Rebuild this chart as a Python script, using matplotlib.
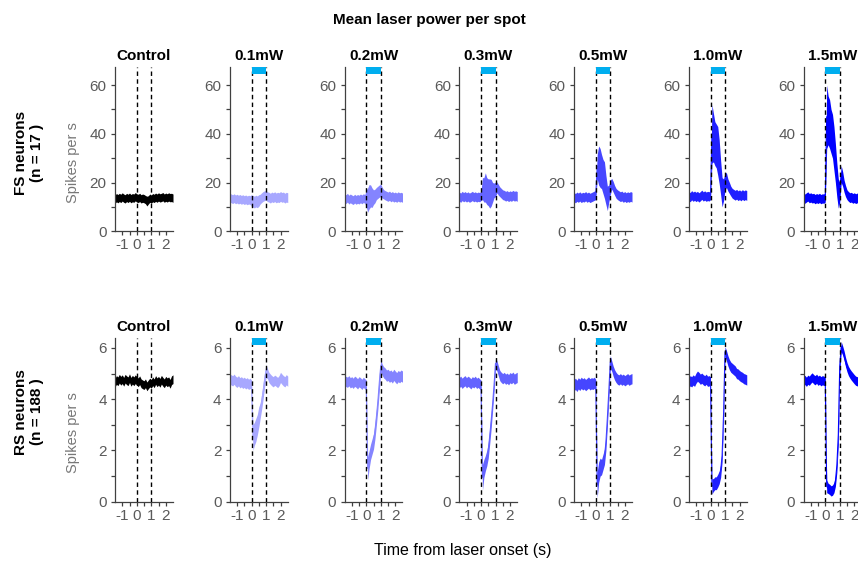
import numpy as np
import matplotlib.pyplot as plt
from matplotlib.patches import Rectangle

plt.rcParams['font.family'] = ['Liberation Sans', 'DejaVu Sans']
plt.rcParams['axes.unicode_minus'] = False

# panel titles and trace colours (control + laser powers)
powers = ['Control', '0.1mW', '0.2mW', '0.3mW', '0.5mW', '1.0mW', '1.5mW']
colors = ['#000000', '#a8a8ff', '#8484ff', '#6464ff', '#4646ff', '#2020ff', '#0000ff']

# time bins (s), 0.1 s apart, laser on from 0 to 1 s
time_s = np.round(np.arange(-1.5, 2.51, 0.1), 1)

# ---- FS neurons: mean rate and half-width of the band (spikes per s) ----
fs_control = [13.2, 13.8, 13.4, 13.9, 13.5, 14.1, 13.6, 13.3, 13.9, 13.5, 14.0, 13.4, 13.8, 13.6,
              14.2, 13.7, 13.5, 13.9, 13.3, 13.6, 13.4, 13.0, 12.4, 12.9, 13.6, 13.2, 13.8, 13.5,
              14.0, 13.6, 14.1, 13.7, 13.9, 14.2, 13.6, 14.0, 13.7, 14.1, 13.8, 13.9, 13.6]
fs_01 = [13.8, 13.5, 13.2, 13.6, 13.1, 13.4, 13.0, 13.3, 12.9, 13.2, 12.8, 13.1, 12.7, 13.0,
         12.8, 12.6, 12.3, 12.0, 12.4, 12.1, 12.6, 13.2, 13.8, 14.3, 14.6, 14.8, 14.2, 14.0,
         13.6, 14.1, 13.8, 14.2, 13.7, 14.0, 13.8, 14.3, 13.9, 14.1, 13.6, 14.0, 13.8]
fs_02 = [13.6, 13.2, 13.8, 13.0, 13.5, 13.1, 12.8, 13.4, 12.9, 13.3, 13.0, 13.5, 13.1, 13.6,
         13.3, 13.5, 12.8, 14.2, 14.5, 13.8, 14.0, 14.5, 15.5, 16.0, 16.5, 16.8, 15.8, 15.2,
         14.8, 14.5, 14.2, 14.6, 14.0, 14.4, 13.9, 14.2, 13.8, 14.3, 13.9, 14.1, 13.8]
fs_03 = [14.2, 13.8, 14.5, 14.0, 14.4, 13.9, 14.3, 13.8, 14.1, 14.5, 14.0, 14.3, 13.9, 14.2,
         14.0, 14.5, 17.5, 17.0, 18.0, 16.5, 16.0, 15.5, 15.8, 16.0, 16.8, 17.2, 18.0, 17.0,
         16.2, 15.6, 15.0, 14.8, 14.4, 14.7, 14.2, 14.6, 14.3, 14.8, 14.4, 14.6, 14.3]
fs_05 = [14.0, 13.6, 14.2, 13.8, 14.3, 13.7, 14.1, 13.9, 14.4, 13.8, 14.2, 13.7, 14.0, 14.3,
         14.6, 15.0, 26.5, 27.0, 26.0, 24.5, 22.5, 21.0, 17.0, 13.5, 15.5, 18.0, 19.5, 18.3,
         16.8, 15.6, 15.0, 14.6, 14.2, 14.5, 13.9, 14.3, 13.8, 14.2, 13.9, 14.3, 14.0]
fs_10 = [14.5, 14.0, 14.8, 14.2, 14.6, 14.1, 14.5, 13.9, 14.4, 15.0, 14.3, 14.7, 14.2, 14.5,
         14.3, 15.0, 40.0, 38.5, 36.0, 35.0, 33.0, 28.5, 22.0, 16.0, 17.0, 20.5, 21.0, 19.0,
         17.8, 16.5, 15.6, 15.2, 14.8, 15.2, 14.6, 15.0, 14.5, 15.1, 14.6, 15.0, 14.7]
fs_15 = [13.8, 13.4, 13.9, 14.3, 13.6, 13.9, 13.5, 13.7, 13.2, 13.6, 13.3, 13.7, 13.2, 13.5,
         13.4, 14.0, 47.0, 45.5, 44.0, 41.0, 39.0, 34.0, 28.0, 21.0, 15.5, 16.0, 23.5, 21.5,
         18.5, 16.5, 15.0, 14.3, 13.8, 14.0, 13.5, 13.8, 13.4, 13.7, 13.3, 13.6, 13.4]

fs_control_sd = [1.7] * 22 + [2.0] + [1.7] * 18
fs_01_sd = [1.8] * 15 + [2.4] * 6 + [2.0] * 20
fs_02_sd = [1.8] * 15 + [3.5, 5.0, 5.0, 4.5, 4.0, 3.0, 2.8, 2.5, 2.5, 2.5, 2.6, 2.2] + [1.9] * 14
fs_03_sd = [1.9] * 16 + [4.5, 5.0, 6.0, 5.5, 5.5, 6.0, 5.5, 4.0, 3.0, 3.0, 2.2, 2.2] + [2.0] * 13
fs_05_sd = [1.9] * 15 + [2.0, 5.0, 8.0, 8.0, 7.0, 7.0, 7.5, 6.0, 5.0, 3.5, 3.0, 2.2, 2.2,
                         2.0] + [2.0] * 12
fs_10_sd = [1.9] * 15 + [2.0, 12.0, 10.0, 9.0, 9.0, 10.0, 9.0, 7.0, 6.0, 4.5, 3.5, 3.0, 2.5,
                         2.3] + [2.0] * 12
fs_15_sd = [1.9] * 15 + [2.0, 13.0, 10.0, 10.0, 9.0, 9.0, 9.0, 8.0, 7.0, 6.0, 4.0, 3.5, 3.0,
                         2.5, 2.3] + [2.0] * 11

# ---- RS neurons ----
rs_control = [4.65, 4.75, 4.70, 4.80, 4.72, 4.78, 4.68, 4.80, 4.74, 4.70, 4.82, 4.68, 4.76, 4.70,
              4.78, 4.72, 4.66, 4.74, 4.62, 4.58, 4.55, 4.62, 4.50, 4.58, 4.65, 4.60, 4.70, 4.62,
              4.75, 4.66, 4.72, 4.64, 4.76, 4.68, 4.62, 4.72, 4.66, 4.70, 4.60, 4.74, 4.78]
rs_01 = [4.80, 4.75, 4.72, 4.78, 4.70, 4.66, 4.72, 4.64, 4.68, 4.62, 4.66, 4.60, 4.64, 4.58,
         4.62, 4.55, 2.50, 2.65, 2.80, 3.00, 3.30, 3.55, 3.90, 4.30, 4.75, 5.10, 5.00, 4.85,
         4.78, 4.72, 4.68, 4.74, 4.70, 4.65, 4.72, 4.85, 4.78, 4.72, 4.68, 4.76, 4.70]
rs_02 = [4.62, 4.70, 4.66, 4.72, 4.64, 4.68, 4.62, 4.70, 4.66, 4.60, 4.68, 4.64, 4.58, 4.66,
         4.60, 4.55, 1.30, 1.65, 1.95, 2.15, 2.35, 2.75, 3.30, 3.90, 4.65, 5.30, 5.15, 5.05,
         5.00, 4.92, 4.95, 4.88, 4.92, 4.85, 4.95, 4.88, 4.82, 4.90, 4.86, 4.92, 4.88]
rs_03 = [4.65, 4.70, 4.62, 4.68, 4.72, 4.64, 4.70, 4.66, 4.60, 4.68, 4.64, 4.70, 4.62, 4.66,
         4.60, 4.55, 0.95, 1.30, 1.50, 1.70, 2.00, 2.55, 3.15, 3.80, 4.55, 5.40, 5.30, 5.10,
         4.92, 4.85, 4.80, 4.85, 4.78, 4.82, 4.76, 4.84, 4.80, 4.86, 4.78, 4.82, 4.85]
rs_05 = [4.55, 4.60, 4.52, 4.62, 4.56, 4.64, 4.58, 4.62, 4.55, 4.60, 4.65, 4.58, 4.62, 4.60,
         4.64, 4.55, 0.65, 1.15, 1.35, 1.35, 1.55, 1.75, 2.30, 3.25, 4.30, 5.45, 5.30, 5.10,
         4.95, 4.85, 4.78, 4.75, 4.80, 4.74, 4.78, 4.72, 4.76, 4.80, 4.74, 4.78, 4.80]
rs_10 = [4.65, 4.72, 4.68, 4.75, 4.70, 4.82, 4.90, 4.85, 4.78, 4.82, 4.76, 4.72, 4.78, 4.70,
         4.72, 4.68, 0.60, 0.65, 0.72, 0.72, 0.82, 0.95, 1.20, 1.80, 3.40, 5.85, 5.70, 5.50,
         5.35, 5.25, 5.20, 5.15, 5.10, 5.00, 4.98, 4.92, 4.88, 4.85, 4.80, 4.78, 4.75]
rs_15 = [4.70, 4.75, 4.68, 4.76, 4.72, 4.80, 4.85, 4.78, 4.74, 4.80, 4.72, 4.76, 4.70, 4.74,
         4.72, 4.70, 0.60, 0.52, 0.48, 0.42, 0.45, 0.55, 0.80, 1.40, 2.60, 5.30, 6.05, 5.90,
         5.70, 5.45, 5.25, 5.10, 5.00, 4.92, 4.85, 4.78, 4.72, 4.70, 4.66, 4.68, 4.65]

rs_control_sd = [0.17] * 41
rs_01_sd = [0.2] * 16 + [0.5, 0.45, 0.45, 0.4, 0.4, 0.3, 0.3, 0.3, 0.3, 0.25] + [0.2] * 15
rs_02_sd = [0.2] * 16 + [0.45, 0.35, 0.3, 0.3, 0.3, 0.3, 0.3, 0.3, 0.35, 0.25] + [0.22] * 15
rs_03_sd = [0.2] * 16 + [0.5, 0.35, 0.3, 0.3, 0.3, 0.3, 0.3, 0.25, 0.25, 0.2] + [0.2] * 15
rs_05_sd = [0.22] * 16 + [0.5, 0.4, 0.35, 0.3, 0.3, 0.3, 0.3, 0.3, 0.3, 0.25] + [0.2] * 15
rs_10_sd = [0.2] * 16 + [0.3, 0.25, 0.25, 0.25, 0.25, 0.25, 0.25, 0.25, 0.3, 0.2] + [0.2] * 15
rs_15_sd = [0.18] * 16 + [0.25, 0.2, 0.2, 0.2, 0.2, 0.2, 0.2, 0.25, 0.35, 0.3, 0.2] + [0.18] * 14

fs_means = [fs_control, fs_01, fs_02, fs_03, fs_05, fs_10, fs_15]
fs_sds = [fs_control_sd, fs_01_sd, fs_02_sd, fs_03_sd, fs_05_sd, fs_10_sd, fs_15_sd]
rs_means = [rs_control, rs_01, rs_02, rs_03, rs_05, rs_10, rs_15]
rs_sds = [rs_control_sd, rs_01_sd, rs_02_sd, rs_03_sd, rs_05_sd, rs_10_sd, rs_15_sd]

W, H = 858, 564
fig = plt.figure(figsize=(W / 100, H / 100), dpi=100)


def add_panel(left, top, width, height):
    # positions given in pixels from the top-left corner
    return fig.add_axes([left / W, 1 - (top + height) / H, width / W, height / H])


rows = [
    dict(means=fs_means, sds=fs_sds, top=67.3, ymax=67.3, bar=2.9,
         yticks=[0, 20, 40, 60], yminor=[10, 30, 50]),
    dict(means=rs_means, sds=rs_sds, top=337.7, ymax=6.4, bar=0.3,
         yticks=[0, 2, 4, 6], yminor=[1, 3, 5]),
]

for r, row in enumerate(rows):
    for c in range(len(powers)):
        ax = add_panel(115 + 114.75 * c, row['top'], 58, 164)
        mean = np.array(row['means'][c])
        sd = np.array(row['sds'][c])

        ax.fill_between(time_s, mean - sd, mean + sd, color=colors[c], lw=0, zorder=2)
        ax.plot(time_s, mean, color=colors[c], lw=0.8, zorder=2)

        for xv in (0, 1):
            ax.axvline(xv, color='black', lw=1, ls=(0, (3.2, 2.4)), zorder=3)
        if c > 0:
            ax.add_patch(Rectangle((0, row['ymax'] - row['bar']), 1, row['bar'],
                                   color='#00aeef', lw=0, zorder=4, clip_on=False))

        ax.set_xlim(-1.5, 2.5)
        ax.set_ylim(0, row['ymax'])
        ax.set_xticks([-1, 0, 1, 2])
        ax.set_xticks([-0.5, 0.5, 1.5], minor=True)
        ax.set_yticks(row['yticks'])
        ax.set_yticks(row['yminor'], minor=True)
        ax.spines['top'].set_visible(False)
        ax.spines['right'].set_visible(False)
        for s in ('left', 'bottom'):
            ax.spines[s].set_color('#404040')
            ax.spines[s].set_linewidth(0.9)
        ax.tick_params(which='both', direction='out', length=3, width=0.9, color='#404040',
                       labelcolor='#5a5a5a', labelsize=11)
        ax.tick_params(axis='x', pad=2)
        ax.tick_params(axis='y', pad=3)
        ax.set_title(powers[c], fontsize=11, fontweight='bold', pad=5)

        if c == 0:
            ax.set_ylabel('Spikes per s', color='#777777', fontsize=10.5)
            ax.yaxis.set_label_coords(-0.6, 0.42)

fig.text(429 / W, 1 - 20 / H, 'Mean laser power per spot', ha='center', va='center',
         fontsize=11, fontweight='bold')
fig.text(463 / W, 1 - 551 / H, 'Time from laser onset (s)', ha='center', va='center',
         fontsize=11.5)
fig.text(29 / W, 1 - 153 / H, 'FS neurons\n(n = 17 )', rotation=90, ha='center', va='center',
         fontsize=11, fontweight='bold', multialignment='center', linespacing=1.1)
fig.text(29 / W, 1 - 412 / H, 'RS neurons\n(n = 188 )', rotation=90, ha='center', va='center',
         fontsize=11, fontweight='bold', multialignment='center', linespacing=1.1)

fig.savefig('out.png', dpi=100)
